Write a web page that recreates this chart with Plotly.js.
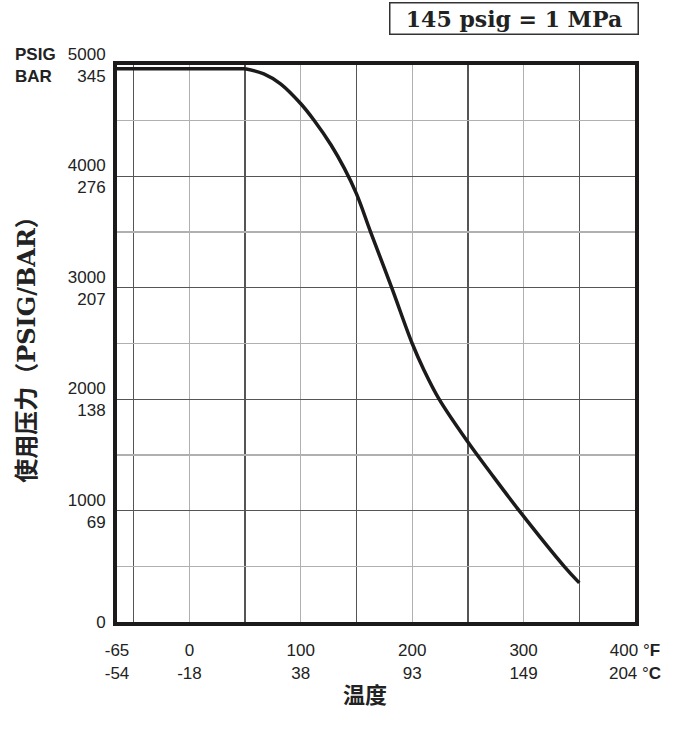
<!DOCTYPE html>
<html>
<head>
<meta charset="utf-8">
<script src="https://cdn.plot.ly/plotly-3.0.1.min.js"></script>
<style>
  html, body { margin: 0; padding: 0; background: #fff; }
  #chart { width: 693px; height: 735px; }
</style>
</head>
<body>
<div id="chart"></div>
<script>
// Temperature (°F) and working pressure (psig)
const tempF = [-65, 0, 50, 66.8, 81.8, 100, 111.7, 127, 139, 150, 162.6, 182, 200, 210.5, 224, 250, 270.6, 296, 336.4, 350];
const psig  = [4966, 4966, 4966, 4921, 4831, 4652, 4506, 4284, 4074, 3843, 3503, 2990, 2500, 2263, 2003, 1615, 1335, 1000, 500, 351];
// the rating is flat up to this temperature, then falls off along a smooth curve
const flatEndF = 50;

// Axis tick labels (°F / °C and PSIG / BAR)
const xTickVals = [-65, 0, 100, 200, 300, 400];
const xTickText = ['-65<br>-54', '0<br>-18', '100<br>38', '200<br>93', '300<br>149', '400 °<b>F</b><br>204 °<b>C</b>'];
const xMinorVals = [-50, 50, 150, 250, 350];
const yTickVals = [0, 1000, 2000, 3000, 4000, 5000];
const yTickText = ['0', '1000<br>69', '2000<br>138', '3000<br>207', '4000<br>276', '5000<br>345'];
const yMinorVals = [500, 1500, 2500, 3500, 4500];

const xTitle = '温度';
const yTitle = '使用压力（PSIG/BAR）';
const unitNote = '145 psig = 1 MPa';
const unitLabels = '<b>PSIG</b><br><b>BAR</b>';

const tickFont = { family: 'Liberation Sans, Arial, sans-serif', size: 17, color: '#222' };
const split = tempF.indexOf(flatEndF);
const lineStyle = { color: '#1c1a1a', width: 3.5 };

const flatTrace = {
  x: tempF.slice(0, split + 1),
  y: psig.slice(0, split + 1),
  type: 'scatter', mode: 'lines',
  line: Object.assign({ shape: 'linear' }, lineStyle),
  hoverinfo: 'skip'
};
const curveTrace = {
  x: tempF.slice(split),
  y: psig.slice(split),
  type: 'scatter', mode: 'lines',
  line: Object.assign({ shape: 'spline', smoothing: 1 }, lineStyle),
  hoverinfo: 'skip'
};

const layout = {
  width: 693,
  height: 735,
  margin: { l: 117, r: 58, t: 65, b: 113 },
  paper_bgcolor: '#fff',
  plot_bgcolor: '#fff',
  showlegend: false,
  xaxis: {
    range: [-65, 400],
    tickmode: 'array',
    tickvals: xTickVals,
    ticktext: xTickText,
    tickfont: tickFont,
    ticks: '',
    ticklabelstandoff: 10,
    showgrid: true,
    gridcolor: '#b0b0b0',
    gridwidth: 1.3,
    minor: { tickmode: 'array', tickvals: xMinorVals, showgrid: true, gridcolor: '#555', gridwidth: 1.3, ticks: '' },
    zeroline: false,
    showline: true,
    linecolor: '#1c1a1a',
    linewidth: 4,
    mirror: true
  },
  yaxis: {
    range: [0, 5000],
    tickmode: 'array',
    tickvals: yTickVals,
    ticktext: yTickText,
    tickfont: tickFont,
    ticks: '',
    ticklabelstandoff: 4,
    showgrid: true,
    gridcolor: '#555',
    gridwidth: 1.3,
    minor: { tickmode: 'array', tickvals: yMinorVals, showgrid: true, gridcolor: '#b0b0b0', gridwidth: 1.3, ticks: '' },
    zeroline: false,
    showline: true,
    linecolor: '#1c1a1a',
    linewidth: 4,
    mirror: true,
    title: { text: yTitle, standoff: 26, font: { family: 'DejaVu Serif, Noto Sans CJK SC, serif', size: 24, color: '#222', weight: 'bold' } }
  },
  annotations: [
    {
      text: '<b>' + unitNote + '</b>',
      xref: 'paper', yref: 'paper',
      x: 1.008, y: 1.0826, xanchor: 'right', yanchor: 'middle',
      showarrow: false,
      width: 245, height: 28, align: 'center',
      font: { family: 'DejaVu Serif, serif', size: 22, color: '#222' },
      bordercolor: '#333', borderwidth: 1.5, borderpad: 1,
      bgcolor: '#fff'
    },
    {
      text: unitLabels,
      xref: 'paper', yref: 'paper',
      x: -0.2, y: 1.0, xanchor: 'left', yanchor: 'middle',
      align: 'left',
      showarrow: false,
      font: tickFont
    },
    {
      text: '<b>' + xTitle + '</b>',
      xref: 'paper', yref: 'paper',
      x: 0.479, y: -0.1275, xanchor: 'center', yanchor: 'middle',
      showarrow: false,
      font: { family: 'Noto Sans CJK SC, serif', size: 22, color: '#222' }
    }
  ]
};

Plotly.newPlot('chart', [flatTrace, curveTrace], layout, { displayModeBar: false, staticPlot: true });
</script>
</body>
</html>
